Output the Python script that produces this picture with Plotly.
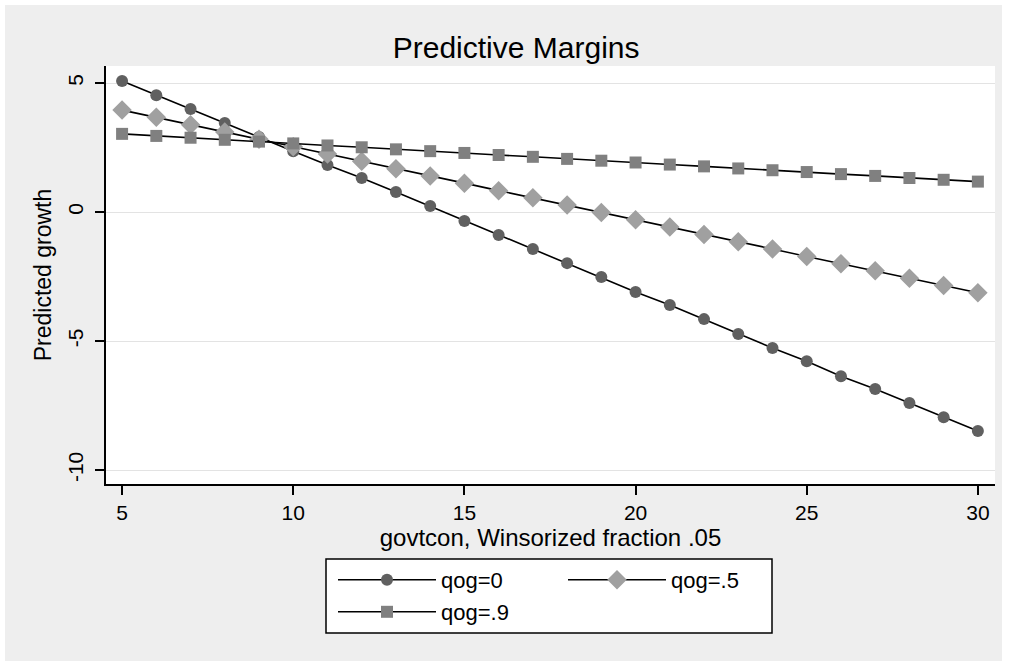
import plotly.graph_objects as go

x_vals = list(range(5, 31))

qog0 = [5.08, 4.53, 3.99, 3.45, 2.91, 2.36, 1.82, 1.32, 0.78, 0.23,
        -0.35, -0.89, -1.43, -1.98, -2.52, -3.10, -3.60, -4.15, -4.73, -5.27,
        -5.78, -6.36, -6.86, -7.40, -7.95, -8.49]
qog5 = [3.95, 3.67, 3.38, 3.10, 2.82, 2.53, 2.25, 1.97, 1.68, 1.40,
        1.12, 0.83, 0.55, 0.27, -0.02, -0.30, -0.58, -0.87, -1.15, -1.43,
        -1.72, -2.00, -2.28, -2.57, -2.85, -3.13]
qog9 = [3.03, 2.95, 2.88, 2.80, 2.73, 2.66, 2.58, 2.51, 2.43, 2.36,
        2.29, 2.21, 2.14, 2.06, 1.99, 1.92, 1.84, 1.77, 1.69, 1.62,
        1.55, 1.47, 1.40, 1.32, 1.25, 1.18]

series_names = ["qog=0", "qog=.5", "qog=.9"]
x_ticks = [5, 10, 15, 20, 25, 30]
y_ticks = [-10, -5, 0, 5]
y_tick_labels = ["-10", "-5", "0", "5"]

FONT = "Liberation Sans, Arial, sans-serif"

L, R, T, B = 106, 17, 66, 179
W, H = 1012, 663
pw, ph = W - L - R, H - T - B

def px(xp):
    return (xp - L) / pw

def py(yp):
    return (H - B - yp) / ph

fig = go.Figure()
styles = [
    dict(symbol="circle", color="#606060", size=12, legend="legend"),
    dict(symbol="diamond", color="#A0A0A0", size=15, legend="legend2"),
    dict(symbol="square", color="#808080", size=12, legend="legend3"),
]
for name, ys, st in zip(series_names, [qog0, qog5, qog9], styles):
    fig.add_trace(go.Scatter(
        x=x_vals, y=ys, name=name, mode="lines+markers",
        line=dict(color="black", width=1.6),
        marker=dict(symbol=st["symbol"], color=st["color"], size=st["size"],
                    line=dict(width=0)),
        legend=st["legend"], showlegend=True,
    ))

shapes = []
# white outer border strips
for (x0, y0, x1, y1) in [(0, 0, 5, H), (1002, 0, W, H), (0, 0, W, 5), (0, 661, W, H)]:
    shapes.append(dict(type="rect", xref="paper", yref="paper",
                       x0=px(x0), x1=px(x1), y0=py(y1), y1=py(y0),
                       fillcolor="white", line=dict(width=0), layer="below"))
# legend box
shapes.append(dict(type="rect", xref="paper", yref="paper",
                   x0=px(326), x1=px(772), y0=py(633), y1=py(559),
                   fillcolor="white", line=dict(color="black", width=1.5), layer="below"))

def leg(xp, yp):
    return dict(x=px(xp), y=py(yp), xanchor="left", yanchor="middle",
                bgcolor="rgba(0,0,0,0)", borderwidth=0, visible=True,
                font=dict(size=22, family=FONT, color="black"), itemwidth=98)

fig.update_layout(
    width=W, height=H,
    margin=dict(l=L, r=R, t=T, b=B),
    showlegend=True,
    paper_bgcolor="#EEEEEE",
    plot_bgcolor="white",
    font=dict(family=FONT, color="black", size=20),
    title=dict(text="Predictive Margins", x=0.51, xref="container", xanchor="center",
               y=1 - 47 / H, yref="container", yanchor="middle",
               font=dict(size=30, family=FONT, color="black")),
    xaxis=dict(range=[4.53, 30.5], tickvals=x_ticks, showgrid=False, zeroline=False,
               showline=True, linecolor="black", linewidth=1.6,
               ticks="outside", ticklen=9, tickwidth=1.5, tickcolor="black",
               tickfont=dict(size=21),
               title=dict(text="govtcon, Winsorized fraction .05", font=dict(size=24), standoff=3)),
    yaxis=dict(range=[-10.54, 5.66], tickvals=y_ticks, ticktext=y_tick_labels,
               tickangle=-90, showgrid=True, gridcolor="#E3E3E3", gridwidth=1,
               zeroline=False, showline=True, linecolor="black", linewidth=1.6,
               ticks="outside", ticklen=9, tickwidth=1.5, tickcolor="black",
               tickfont=dict(size=21), ticklabelstandoff=4,
               title=dict(text="Predicted growth", font=dict(size=23), standoff=6)),
    legend=leg(333, 580),
    legend2=leg(563, 580),
    legend3=leg(333, 612),
    shapes=shapes,
)

fig.write_html("out.html")
